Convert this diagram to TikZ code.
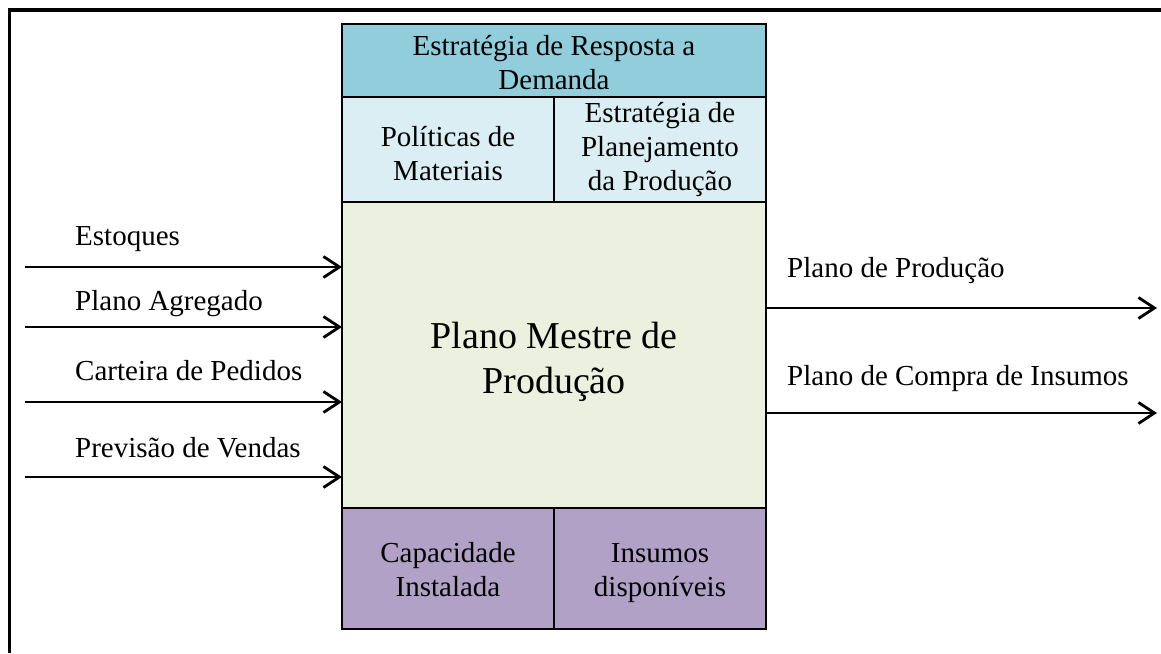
\documentclass[tikz,border=0pt]{standalone}
\usepackage{fontspec}
\setmainfont{Liberation Serif}
\usetikzlibrary{arrows.meta}
\definecolor{topblue}{HTML}{92CDDC}
\definecolor{lightblue}{HTML}{DAEEF3}
\definecolor{lightgreen}{HTML}{EBF1DE}
\definecolor{lilac}{HTML}{B2A1C7}
\begin{document}
\begin{tikzpicture}[x=1pt,y=-1pt,
  cell/.style={draw=black, line width=2pt, inner sep=0pt, outer sep=0pt},
  ctext/.style={align=center, inner sep=0pt, font=\fontsize{29}{34}\selectfont},
  bigtext/.style={align=center, inner sep=0pt, font=\fontsize{38}{45}\selectfont},
  flow/.style={line width=2.8pt, -{Straight Barb[length=16pt,width=21pt,line width=2.8pt]}},
  lbl/.style={anchor=base west, inner sep=0pt, font=\fontsize{29}{34}\selectfont}]
\useasboundingbox (0,0) rectangle (1161,653);
\draw[line width=3.5pt] (9.5,653) -- (9.5,10) -- (1161,10);

\node[cell, fill=topblue, minimum width=424pt, minimum height=73pt] (top) at (554,60.5) {};
\node[cell, fill=lightblue, minimum width=212pt, minimum height=105pt] (pol) at (448,149.5) {};
\node[cell, fill=lightblue, minimum width=212pt, minimum height=105pt] (est) at (660,149.5) {};
\node[cell, fill=lightgreen, minimum width=424pt, minimum height=306pt] (main) at (554,355) {};
\node[cell, fill=lilac, minimum width=212pt, minimum height=121pt] (cap) at (448,568.5) {};
\node[cell, fill=lilac, minimum width=212pt, minimum height=121pt] (ins) at (660,568.5) {};

\node[ctext] (toptxt) at (554,65.2) {\strut Estratégia de Resposta a\\\strut Demanda};
\node[ctext] (poltxt) at (448,156.7) {\strut Políticas de\\\strut Materiais};
\node[ctext] (esttxt) at (660,149.7) {\strut Estratégia de\\\strut Planejamento\\\strut da Produção};
\node[bigtext] (maintxt) at (554,361.5) {\strut Plano Mestre de\\\strut Produção};
\node[ctext] (captxt) at (448,572.7) {\strut Capacidade\\\strut Instalada};
\node[ctext] (instxt) at (660,572.7) {\strut Insumos\\\strut disponíveis};

\coordinate (in1) at (25,267);
\coordinate (in2) at (25,327);
\coordinate (in3) at (25,402);
\coordinate (in4) at (25,477);
\draw[flow] (in1) -- (in1 -| main.west);
\draw[flow] (in2) -- (in2 -| main.west);
\draw[flow] (in3) -- (in3 -| main.west);
\draw[flow] (in4) -- (in4 -| main.west);
\node[lbl] (l1) at (75,245) {Estoques};
\node[lbl] (l2) at (75,310) {Plano Agregado};
\node[lbl] (l3) at (75,380) {Carteira de Pedidos};
\node[lbl] (l4) at (75,457) {Previsão de Vendas};

\coordinate (out1) at (1157,308);
\coordinate (out2) at (1157,413);
\draw[flow] (main.east |- out1) -- (out1);
\draw[flow] (main.east |- out2) -- (out2);
\node[lbl] (r1) at (787,277) {Plano de Produção};
\node[lbl] (r2) at (787,385) {Plano de Compra de Insumos};
\end{tikzpicture}
\end{document}
